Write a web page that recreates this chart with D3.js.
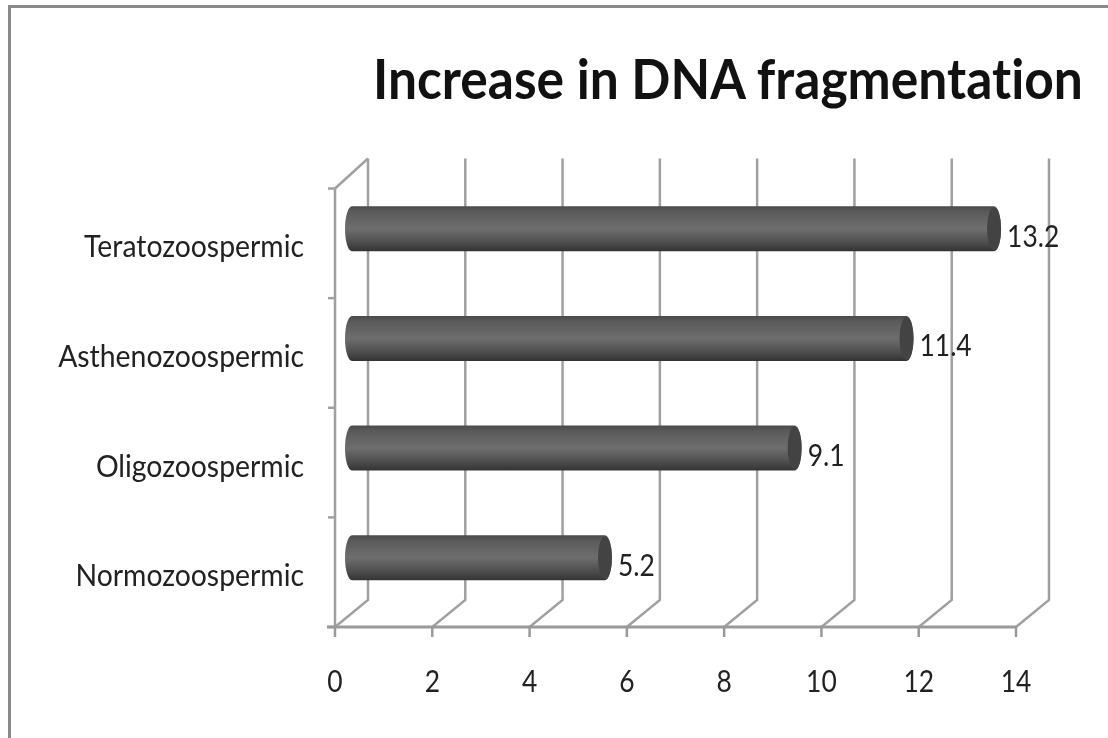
<!DOCTYPE html>
<html>
<head>
<meta charset="utf-8">
<script src="https://cdn.jsdelivr.net/npm/d3@7"></script>
<style>
html, body { margin: 0; padding: 0; background: #fff; }
svg { display: block; filter: blur(0.45px); }
text { font-family: Lato, "Open Sans", sans-serif; fill: #222; font-variant-ligatures: none; }
</style>
</head>
<body>
<svg id="chart" width="1108" height="738"></svg>
<script>
var titleText = 'Increase in DNA fragmentation';
var categories = ['Normozoospermic', 'Oligozoospermic', 'Asthenozoospermic', 'Teratozoospermic'];
var values = [5.2, 9.1, 11.4, 13.2];
var xTicks = [0, 2, 4, 6, 8, 10, 12, 14];

var svg = d3.select('#chart');

var x = d3.scaleLinear().domain([0, 14]).range([335, 1016]);
var y = d3.scaleBand().domain(categories).range([627, 188.5]);

// depth of the fake 3d floor
var dx = 33, dy = -27;
var lineColor = '#a0a0a0';

// the original font is narrower than Lato, so squeeze the text a bit
function narrow(sel, squeeze) {
    sel.attr('textLength', function() { return this.getComputedTextLength() * squeeze; })
        .attr('lengthAdjust', 'spacingAndGlyphs');
}

// bar shading
var defs = svg.append('defs');
var grad = defs.append('linearGradient')
    .attr('id', 'cyl')
    .attr('x1', 0).attr('y1', 0).attr('x2', 0).attr('y2', 1);
grad.append('stop').attr('offset', '0%').attr('stop-color', '#4a4a4a');
grad.append('stop').attr('offset', '12%').attr('stop-color', '#5a5a5a');
grad.append('stop').attr('offset', '50%').attr('stop-color', '#6e6e6e');
grad.append('stop').attr('offset', '80%').attr('stop-color', '#4e4e4e');
grad.append('stop').attr('offset', '100%').attr('stop-color', '#333');

// outer frame
svg.append('rect')
    .attr('x', 9.5).attr('y', 6.5)
    .attr('width', 1120).attr('height', 760)
    .attr('fill', 'none')
    .attr('stroke', '#8a8a8a')
    .attr('stroke-width', 3);

var title = svg.append('text')
    .style('font-size', '55px')
    .style('font-weight', 700)
    .style('fill', '#111')
    .text(titleText);
title.attr('transform', 'translate(373,99) scale(' + (710 / title.node().getComputedTextLength()) + ',1)');

// gridlines with floor slant
var grid = svg.append('g').attr('fill', 'none').attr('stroke', lineColor).attr('stroke-width', 2.5);
grid.selectAll('path')
    .data(xTicks)
    .enter()
    .append('path')
    .attr('d', function(d) {
        var p = d3.path();
        p.moveTo(x(d), y.range()[0]);
        p.lineTo(x(d) + dx, y.range()[0] + dy);
        p.lineTo(x(d) + dx, y.range()[1] - 30);
        return p.toString();
    });

// left wall
var wall = svg.append('g').attr('stroke', lineColor).attr('stroke-width', 2.5).attr('fill', 'none');
wall.append('line')
    .attr('x1', x(0)).attr('x2', x(0))
    .attr('y1', y.range()[1]).attr('y2', y.range()[0]);
wall.append('line')
    .attr('x1', x(0)).attr('x2', x(0) + dx)
    .attr('y1', y.range()[1]).attr('y2', y.range()[1] - 30);

// category ticks
var yTicks = categories.map(function(c) { return y(c); }).concat([y.range()[0]]);
wall.selectAll('line.ytick')
    .data(yTicks)
    .enter()
    .append('line')
    .attr('class', 'ytick')
    .attr('x1', x(0) - 7).attr('x2', x(0))
    .attr('y1', function(d) { return d; })
    .attr('y2', function(d) { return d; });

// x axis
var xAxis = svg.append('g').attr('stroke', '#999').attr('stroke-width', 3);
xAxis.append('line')
    .attr('x1', x(0) - 8).attr('x2', x(14))
    .attr('y1', y.range()[0]).attr('y2', y.range()[0]);
xAxis.selectAll('line.xtick')
    .data(xTicks)
    .enter()
    .append('line')
    .attr('class', 'xtick')
    .attr('stroke-width', 2.5)
    .attr('x1', function(d) { return x(d); })
    .attr('x2', function(d) { return x(d); })
    .attr('y1', y.range()[0])
    .attr('y2', y.range()[0] + 10);

svg.append('g').selectAll('text')
    .data(xTicks)
    .enter()
    .append('text')
    .attr('x', function(d) { return x(d); })
    .attr('y', 692)
    .attr('text-anchor', 'middle')
    .style('font-size', '30px')
    .text(function(d) { return d; })
    .call(narrow, 0.88);

svg.append('g').selectAll('text')
    .data(categories)
    .enter()
    .append('text')
    .attr('x', 304)
    .attr('y', function(d) { return y(d) + y.bandwidth() / 2 + 14; })
    .attr('text-anchor', 'end')
    .style('font-size', '30px')
    .text(function(d) { return d; })
    .call(narrow, 0.945);

// cylinders
var capRx = 7, barH = 45, barDx = 17, barDy = -14.5;
var bars = svg.append('g').selectAll('g')
    .data(categories)
    .enter()
    .append('g')
    .attr('transform', function(d) {
        return 'translate(0,' + (y(d) + y.bandwidth() / 2 + barDy) + ')';
    });

bars.append('path')
    .attr('fill', 'url(#cyl)')
    .attr('d', function(d, i) {
        var x0 = x(0) + barDx, x1 = x(values[i]) + barDx, r = barH / 2;
        return 'M' + x0 + ',' + (-r)
            + 'L' + x1 + ',' + (-r)
            + 'A' + capRx + ',' + r + ' 0 0 1 ' + x1 + ',' + r
            + 'L' + x0 + ',' + r
            + 'A' + capRx + ',' + r + ' 0 0 1 ' + x0 + ',' + (-r) + 'Z';
    });

bars.append('ellipse')
    .attr('cx', function(d, i) { return x(values[i]) + barDx; })
    .attr('cy', 0)
    .attr('rx', capRx)
    .attr('ry', barH / 2 - 1)
    .attr('fill', '#434343');

bars.append('text')
    .attr('x', function(d, i) { return x(values[i]) + barDx + 13; })
    .attr('y', 18)
    .style('font-size', '30px')
    .text(function(d, i) { return values[i]; })
    .call(narrow, 0.88);
</script>
</body>
</html>
